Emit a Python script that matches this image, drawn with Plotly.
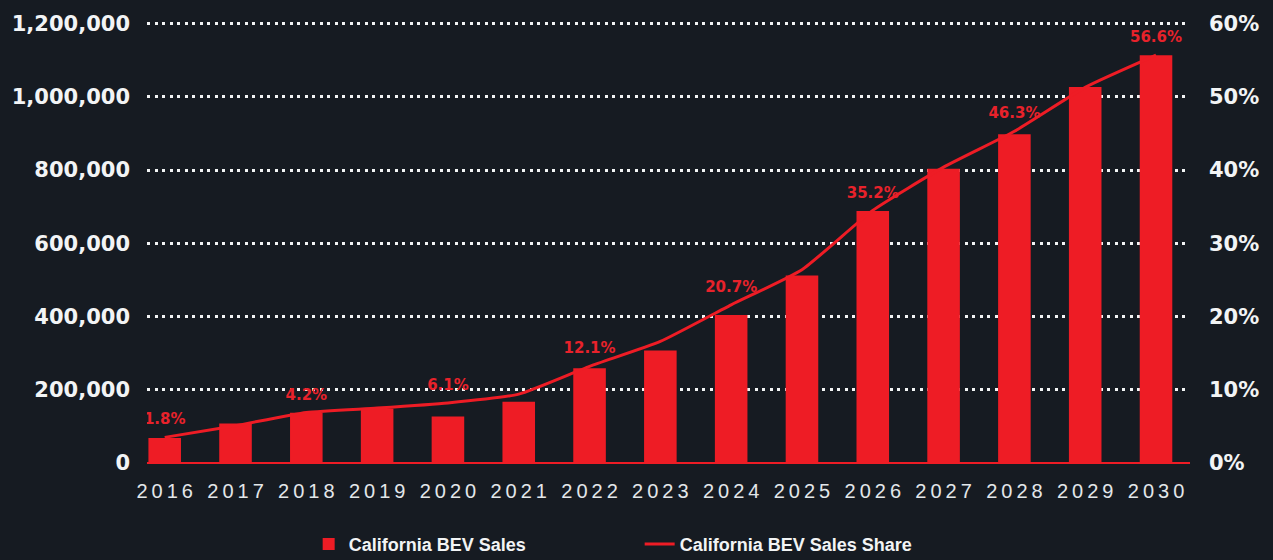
import plotly.graph_objects as go

years = [2016, 2017, 2018, 2019, 2020, 2021, 2022, 2023, 2024, 2025, 2026, 2027, 2028, 2029, 2030]
bev_sales = [68000, 108000, 137000, 148000, 127000, 167000, 259000, 307000, 404000, 512000,
             688000, 804000, 898000, 1027000, 1114000]
share_line = [0.035, 0.051, 0.069, 0.075, 0.082, 0.094, 0.132, 0.166, 0.216, 0.264,
              0.345, 0.404, 0.453, 0.513, 0.557]
share_labels = ["1.8%", "", "4.2%", "", "6.1%", "", "12.1%", "", "20.7%", "",
                "35.2%", "", "46.3%", "", "56.6%"]
left_ticks = [0, 200000, 400000, 600000, 800000, 1000000, 1200000]
right_ticks = [0, 0.1, 0.2, 0.3, 0.4, 0.5, 0.6]
year_ticktext = ["\u2009".join(list(str(y))) for y in years]

RED = "#ee1c25"
BG = "#161b22"
WHITE = "#f2f4f5"

fig = go.Figure()
fig.add_trace(go.Bar(
    x=years, y=bev_sales, name="California BEV Sales",
    marker=dict(color=RED, line=dict(width=0)), width=0.46,
))
fig.add_trace(go.Scatter(
    x=years, y=share_line, name="California BEV Sales Share", yaxis="y2",
    mode="lines+markers+text", text=share_labels, textposition="top center",
    marker=dict(size=13, color="rgba(0,0,0,0)"),
    textfont=dict(family="DejaVu Sans", size=15, color="#e8222b", weight="bold"),
    line=dict(color=RED, width=3, shape="spline", smoothing=0.5),
))

fig.update_layout(
    width=1273, height=560,
    paper_bgcolor=BG, plot_bgcolor=BG,
    margin=dict(l=145, r=83, t=14, b=97),
    showlegend=True,
    legend=dict(
        orientation="h", x=0.155, xanchor="left",
        yref="container", y=0.028, yanchor="middle",
        font=dict(family="Liberation Sans", size=18, color=WHITE, weight="bold"),
        entrywidth=286, bgcolor="rgba(0,0,0,0)",
    ),
    xaxis=dict(
        range=[2015.75, 2030.48], tickvals=years, ticktext=year_ticktext,
        showgrid=False, zeroline=False, showline=False, ticks="",
        tickfont=dict(family="Liberation Sans", size=20, color="#e3e7ea"),
        ticklabelstandoff=14,
    ),
    yaxis=dict(
        range=[0, 1210000], tickvals=left_ticks, tickformat=",",
        showgrid=True, gridcolor=WHITE, gridwidth=3, griddash="3px,4.5px",
        zeroline=True, zerolinecolor=RED, zerolinewidth=1.5,
        ticks="", ticklabelstandoff=16,
        tickfont=dict(family="DejaVu Sans", size=21, color=WHITE, weight="bold"),
    ),
    yaxis2=dict(
        range=[0, 0.605], tickvals=right_ticks, tickformat=".0%",
        overlaying="y", side="right", showgrid=False, zeroline=False,
        ticks="", ticklabelstandoff=18,
        tickfont=dict(family="DejaVu Sans", size=21, color=WHITE, weight="bold"),
    ),
    bargap=0.5,
)

fig.write_html("out.html", config={"displayModeBar": False},
               post_script="document.body.style.margin='0';")
